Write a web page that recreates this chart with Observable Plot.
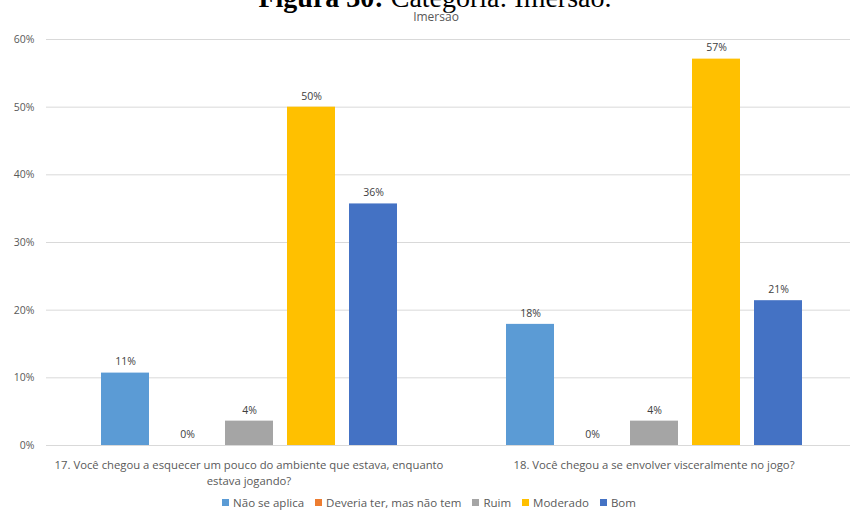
<!DOCTYPE html>
<html>
<head>
<meta charset="utf-8">
<script src="https://cdn.jsdelivr.net/npm/d3@7"></script>
<script src="https://cdn.jsdelivr.net/npm/@observablehq/plot@0.6"></script>
<style>
  html, body { margin: 0; padding: 0; background: #fff; overflow: hidden; width: 850px; height: 513px; }
  #wrap { position: relative; width: 850px; height: 513px; overflow: hidden; font-family: "Open Sans", sans-serif; }
  #fig { position: absolute; top: -16px; left: 0; width: 870px; text-align: center; font-family: "Liberation Serif", "DejaVu Serif", serif; font-size: 28px; line-height: 1; color: #000; white-space: nowrap; }
  #sub { position: absolute; top: 8px; left: 0; width: 872px; text-align: center; font-size: 12px; color: #595959; }
  #chart { position: absolute; top: 0; left: 0; width: 866px; }
  #chart svg { max-width: none !important; }
  #legend { position: absolute; top: 495px; left: 0; width: 858px; display: flex; justify-content: center; gap: 11px; font-size: 11.5px; color: #595959; }
  #legend span.item { display: inline-flex; align-items: center; gap: 4px; }
  #legend span.sw { display: inline-block; width: 7px; height: 7px; }
</style>
</head>
<body>
<div id="wrap">
  <div id="chart"></div>
  <div id="fig"><b>Figura 30:</b> Categoria: Imersão.</div>
  <div id="sub">Imersão</div>
  <div id="legend"></div>
</div>
<script>
const questions = [
  "17. Você chegou a esquecer um pouco do ambiente que estava, enquanto estava jogando?",
  "18. Você chegou a se envolver visceralmente no jogo?"
];
const categories = ["Não se aplica", "Deveria ter, mas não tem", "Ruim", "Moderado", "Bom"];
const colors = ["#5B9BD5", "#ED7D31", "#A5A5A5", "#FFC000", "#4472C4"];
const q17 = [0.107, 0, 0.036, 0.50, 0.357];
const q18 = [0.179, 0, 0.036, 0.571, 0.214];
const yTicks = [0, 0.1, 0.2, 0.3, 0.4, 0.5, 0.6];

const series = [q17, q18];
const data = [];
questions.forEach((q, i) => categories.forEach((c, j) => data.push({q, c, v: series[i][j]})));

function wrap(s, max) {
  const words = s.split(" ");
  const lines = [];
  let cur = "";
  for (const w of words) {
    if ((cur + " " + w).trim().length > max) { lines.push(cur); cur = w; }
    else cur = (cur + " " + w).trim();
  }
  lines.push(cur);
  return lines.join("\n");
}

const chart = Plot.plot({
  width: 866,
  height: 490,
  marginTop: 39,
  marginBottom: 45,
  marginLeft: 46,
  marginRight: 10,
  style: { fontFamily: "Open Sans, sans-serif", fontSize: "10px", color: "#595959", background: "transparent", maxWidth: "none" },
  fx: { domain: questions, padding: 0, label: null, axis: null },
  x: { domain: categories, paddingInner: 0.226, paddingOuter: 0.84, axis: null },
  y: { domain: [0, 0.6], axis: null },
  color: { domain: categories, range: colors },
  marks: [
    Plot.gridY(yTicks, { stroke: "#d9d9d9", strokeOpacity: 1, strokeWidth: 1, facet: "exclude" }),
    Plot.axisY(yTicks, { tickFormat: d3.format(".0%"), tickSize: 0, tickPadding: 12, fill: "#595959", fontSize: 10.5, label: null, facet: "exclude" }),
    Plot.barY(data, { fx: "q", x: "c", y: "v", fill: "c" }),
    Plot.text(data, { fx: "q", x: "c", y: "v", text: d => d3.format(".0%")(d.v), dy: -11, fill: "#404040", fontSize: 10.5 }),
    Plot.axisFx({ anchor: "bottom", tickSize: 0, tickPadding: 12, fill: "#595959", fontSize: 11.3, lineAnchor: "top", tickFormat: d => wrap(d, 70), lineHeight: 1.42, label: null })
  ]
});
document.getElementById("chart").appendChild(chart);

const leg = document.getElementById("legend");
categories.forEach((c, i) => {
  const it = document.createElement("span");
  it.className = "item";
  const sw = document.createElement("span");
  sw.className = "sw";
  sw.style.background = colors[i];
  it.appendChild(sw);
  it.appendChild(document.createTextNode(c));
  leg.appendChild(it);
});
</script>
</body>
</html>
